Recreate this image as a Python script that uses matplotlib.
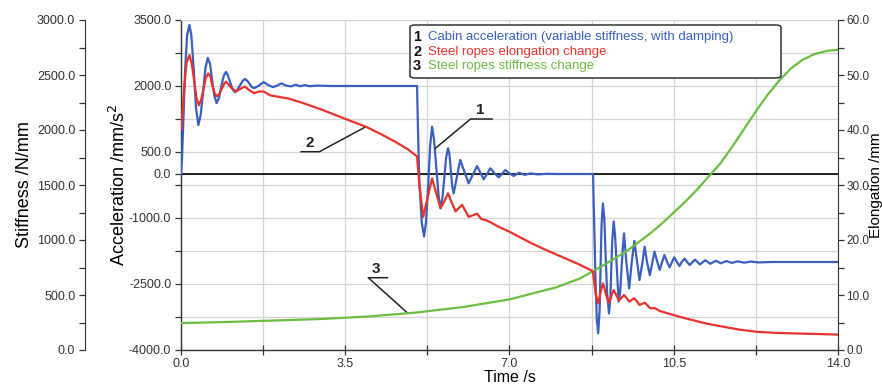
import numpy as np
import matplotlib
matplotlib.use("Agg")
import matplotlib.pyplot as plt
from matplotlib.ticker import FixedLocator, MultipleLocator, FormatStrFormatter
from matplotlib.patches import FancyBboxPatch

plt.rcParams['font.family'] = ['Liberation Sans', 'DejaVu Sans']

# --- data ---
# curve 1: cabin acceleration (mm/s2)
t_acc = [0.0, 0.02, 0.05, 0.09, 0.13, 0.18, 0.22, 0.27, 0.32, 0.37, 0.42, 0.47, 0.52, 0.57,
         0.62, 0.66, 0.71, 0.76, 0.81, 0.86, 0.91, 0.96, 1.0, 1.05, 1.1, 1.15, 1.2, 1.25,
         1.31, 1.36, 1.41, 1.46, 1.51, 1.56, 1.66, 1.76, 1.86, 1.96, 2.05, 2.14, 2.24, 2.34,
         2.44, 2.54, 2.64, 2.74, 2.9, 3.2, 5.02,
         5.03, 5.05, 5.08, 5.13, 5.18, 5.22, 5.27, 5.31, 5.35, 5.39, 5.44, 5.49, 5.53, 5.57,
         5.61, 5.65, 5.69, 5.72, 5.75, 5.78, 5.81, 5.88, 5.95, 6.04, 6.13, 6.22, 6.31, 6.38,
         6.45, 6.52, 6.59, 6.68, 6.77, 6.84, 6.91, 7.0, 7.09, 7.2, 7.32, 7.45, 7.6, 7.8, 8.0,
         8.77,
         8.78, 8.8, 8.83, 8.86, 8.89, 8.92, 8.94, 8.96, 8.99, 9.02, 9.05, 9.08, 9.12, 9.15,
         9.17, 9.19, 9.22, 9.25, 9.28, 9.31, 9.33, 9.36, 9.39, 9.42, 9.44, 9.49, 9.55, 9.60,
         9.66, 9.72, 9.77, 9.83, 9.88, 9.93, 9.99, 10.04, 10.09, 10.15, 10.2, 10.25, 10.3,
         10.36, 10.41, 10.46, 10.51, 10.57, 10.62, 10.67, 10.73, 10.84, 10.95, 11.06, 11.17,
         11.28, 11.4, 11.5, 11.62, 11.74, 11.86, 12.0, 12.15, 12.3, 12.6, 14.0]
acc = [0, 300, 1200, 2400, 3150, 3390, 3150, 2400, 1500, 1110, 1350, 1850, 2400, 2640,
       2500, 2150, 1780, 1610, 1730, 2000, 2230, 2320, 2240, 2080, 1920, 1860, 1910, 2000,
       2110, 2160, 2120, 2050, 1975, 1950, 2010, 2090, 2020, 1975, 2010, 2060, 2010, 1990,
       2030, 1995, 2020, 1995, 2010, 2000, 2000,
       2000, 1000, -200, -1100, -1420, -1100, -200, 650, 1075, 800, 150, -500, -780, -550,
       -100, 380, 585, 450, 80, -280, -440, -60, 320, 50, -210, -10, 180, 30,
       -120, 0, 130, 20, -75, 0, 90, 15, -45, 30, -20, 15, -10, 5, 0,
       0,
       0, -900, -2300, -3300, -3620, -3100, -2100, -1200, -670, -1000, -1900, -2700, -3170, -2800,
       -2100, -1500, -1080, -1400, -2000, -2600, -2900, -2650, -2100, -1600, -1350, -2000, -2600, -2050,
       -1520, -2000, -2410, -2030, -1650, -2000, -2300, -2030, -1765, -2000, -2180, -2010, -1840,
       -2000, -2120, -2010, -1895, -2000, -2090, -2000, -1925, -2070, -1945, -2055, -1960,
       -2040, -1970, -2030, -1980, -2020, -1985, -2015, -1990, -2010, -2000, -2000]

# curve 2: steel ropes elongation (mm)
t_el = [0.0, 0.03, 0.07, 0.12, 0.18, 0.23, 0.28, 0.33, 0.38, 0.43, 0.48, 0.53, 0.58, 0.63,
        0.67, 0.72, 0.77, 0.82, 0.87, 0.92, 0.96, 1.06, 1.17, 1.27, 1.36, 1.46, 1.56, 1.66,
        1.76, 1.9, 2.1, 2.3, 2.6, 3.0, 3.3, 3.6, 3.94, 4.25, 4.58, 4.85, 5.03,
        5.08, 5.16, 5.25, 5.35, 5.44, 5.53, 5.61, 5.69, 5.77, 5.85, 5.92, 5.99, 6.06, 6.13,
        6.22, 6.31, 6.4, 6.5, 6.6, 6.77, 7.0, 7.2, 7.47, 7.8, 8.18, 8.5, 8.74,
        8.78, 8.81, 8.84, 8.89, 8.94, 8.99, 9.02, 9.05, 9.12, 9.17, 9.22, 9.28, 9.33, 9.39,
        9.44, 9.5, 9.55, 9.6, 9.66, 9.72, 9.77, 9.83, 9.88, 9.94, 10.0, 10.1, 10.2, 10.4,
        10.6, 10.87, 11.2, 11.58, 11.9, 12.28, 12.7, 13.13, 13.6, 14.0]
elong = [40.0, 43.0, 48.0, 52.3, 53.6, 52.0, 49.0, 45.8, 44.5, 45.5, 47.5, 49.5, 50.3, 49.6,
         48.0, 46.6, 46.1, 46.6, 47.5, 48.4, 48.8, 47.8, 47.0, 47.5, 47.9, 47.2, 46.7, 47.0,
         47.0, 46.3, 46.0, 45.7, 44.9, 43.7, 42.7, 41.7, 40.6, 39.3, 37.8, 36.4, 35.2,
         30.0, 24.2, 27.5, 31.2, 28.5, 25.8, 27.0, 28.5, 26.8, 25.2, 25.8, 26.4, 25.3, 24.2,
         24.5, 24.8, 23.8, 23.6, 23.2, 22.4, 21.5, 20.6, 19.4, 18.1, 16.7, 15.5, 14.5,
         14.2, 12.0, 10.0, 8.5, 10.5, 12.1, 11.4, 10.2, 8.6, 9.8, 10.9, 9.9, 9.0, 9.5,
         10.0, 9.4, 8.8, 9.1, 9.4, 8.8, 8.2, 8.4, 8.6, 8.1, 7.6, 7.6, 7.1, 6.6,
         6.1, 5.5, 4.8, 4.2, 3.7, 3.3, 3.1, 3.0, 2.9, 2.8]

# curve 3: steel ropes stiffness (N/mm)
t_k = [0, 1, 2, 3, 4, 5, 6, 7, 8, 8.5, 9, 9.5, 10, 10.25, 10.5, 10.75, 11, 11.25, 11.5,
       11.75, 12, 12.25, 12.5, 12.75, 13, 13.25, 13.5, 13.75, 14]
stiff = [245, 255, 268, 282, 305, 340, 390, 460, 570, 650, 770, 900, 1060, 1150, 1250, 1350,
         1460, 1580, 1700, 1850, 2010, 2170, 2320, 2450, 2560, 2640, 2690, 2718, 2730]

legend_items = ["Cabin acceleration (variable stiffness, with damping)",
                "Steel ropes elongation change",
                "Steel ropes stiffness change"]

c_blue = '#3a5fbd'
c_red = '#e8332c'
c_green = '#6cbd42'
c_axis = '#333333'
c_grid = '#d4d4d4'

fig = plt.figure(figsize=(8.82, 3.85), dpi=100)
ax = fig.add_axes([181 / 882, 35 / 385, 657 / 882, 330 / 385])
ax_k = ax.twinx()
ax_e = ax.twinx()

# acceleration axis (inner left)
ax.set_xlim(0, 14)
ax.set_ylim(-4000, 3500)
ax.yaxis.set_major_locator(FixedLocator([-4000, -2500, -1000, 0, 500, 2000, 3500]))
ax.yaxis.set_minor_locator(FixedLocator([-3250, -1750, -250, 1250, 2750]))
ax.xaxis.set_major_locator(MultipleLocator(3.5))
ax.xaxis.set_minor_locator(MultipleLocator(1.75))
ax.xaxis.set_major_formatter(FormatStrFormatter('%.1f'))
ax.yaxis.set_major_formatter(FormatStrFormatter('%.1f'))
ax.grid(which='both', color=c_grid, lw=0.9)
ax.set_axisbelow(True)
ax.tick_params(axis='y', which='both', direction='out', length=4, width=0.9,
               colors=c_axis, labelsize=9, pad=3)
ax.tick_params(axis='x', which='both', direction='inout', length=7, width=0.9,
               colors=c_axis, labelsize=9, pad=2)
for s in ['left', 'bottom']:
    ax.spines[s].set_color(c_axis)
    ax.spines[s].set_linewidth(1.0)
ax.spines['top'].set_color(c_grid)
ax.spines['right'].set_visible(False)
ax.set_xlabel('Time /s', fontsize=11.5, labelpad=0)
ax.set_ylabel('Acceleration /mm/s$^2$', fontsize=13, labelpad=0)
ax.axhline(0, color='black', lw=1.2, zorder=1.5)
ax.plot(t_acc, acc, color=c_blue, lw=1.6, zorder=3, solid_joinstyle='round')

# stiffness axis (outer left)
ax_k.set_ylim(0, 3000)
ax_k.yaxis.set_ticks_position('left')
ax_k.yaxis.set_label_position('left')
ax_k.spines['left'].set_visible(True)
ax_k.spines['left'].set_position(('outward', 96 * 0.72))
ax_k.spines['left'].set_color(c_axis)
for s in ['right', 'top', 'bottom']:
    ax_k.spines[s].set_visible(False)
ax_k.yaxis.set_major_locator(MultipleLocator(500))
ax_k.yaxis.set_minor_locator(MultipleLocator(250))
ax_k.yaxis.set_major_formatter(FormatStrFormatter('%.1f'))
ax_k.tick_params(axis='y', which='both', direction='out', length=4, width=0.9,
                 colors=c_axis, labelsize=9, pad=3)
ax_k.set_ylabel('Stiffness /N/mm', fontsize=13, labelpad=3)
ax_k.plot(t_k, stiff, color=c_green, lw=1.6, solid_joinstyle='round')

# elongation axis (right)
ax_e.set_ylim(0, 60)
for s in ['left', 'top', 'bottom']:
    ax_e.spines[s].set_visible(False)
ax_e.spines['right'].set_color(c_axis)
ax_e.yaxis.set_major_locator(MultipleLocator(10))
ax_e.yaxis.set_minor_locator(MultipleLocator(5))
ax_e.yaxis.set_major_formatter(FormatStrFormatter('%.1f'))
ax_e.tick_params(axis='y', which='both', direction='out', length=4, width=0.9,
                 colors=c_axis, labelsize=8.5, pad=2)
ax_e.set_ylabel('Elongation /mm', fontsize=11, rotation=90)
ax_e.yaxis.set_label_coords(1.0 + 31 / 657, 0.5)
ax_e.plot(t_el, elong, color=c_red, lw=1.6, solid_joinstyle='round')

# callouts (label position, underline, leader end) in acceleration coords
callouts = [('1', (6.38, 1455), (6.17, 6.63, 1250), (5.42, 584)),
            ('2', (2.74, 705), (2.56, 2.95, 507), (3.94, 1075)),
            ('3', (4.15, -2166), (3.99, 4.40, -2357), (4.82, -3152))]
for num, (lx, ly), (ux0, ux1, uy), (ex, ey) in callouts:
    ax.text(lx, ly, num, fontsize=11, fontweight='bold', color='#222222',
            ha='center', va='center', zorder=6)
    if num == '2':
        px, py = [ux0, ux1, ex], [uy, uy, ey]
    else:
        px, py = [ux1, ux0, ex], [uy, uy, ey]
    ax.plot(px, py, color='#222222', lw=1.1, zorder=6)

# legend box
box = FancyBboxPatch((410 / 882, 1 - 78 / 385), 371 / 882, 53 / 385,
                     boxstyle='round,pad=0,rounding_size=0.006',
                     transform=fig.transFigure, facecolor='white',
                     edgecolor='#333333', lw=1.1, zorder=10, clip_on=False)
fig.patches.append(box)
rows_y = [37, 51.5, 66]
for i, (label, col) in enumerate(zip(legend_items, [c_blue, c_red, c_green])):
    yy = 1 - rows_y[i] / 385
    fig.text(413 / 882, yy, str(i + 1), fontsize=10.5, fontweight='bold',
             color='#111111', va='center', ha='left', zorder=11)
    fig.text(428 / 882, yy, label, fontsize=9.5, color=col,
             va='center', ha='left', zorder=11)

fig.savefig('out.png', dpi=100)
